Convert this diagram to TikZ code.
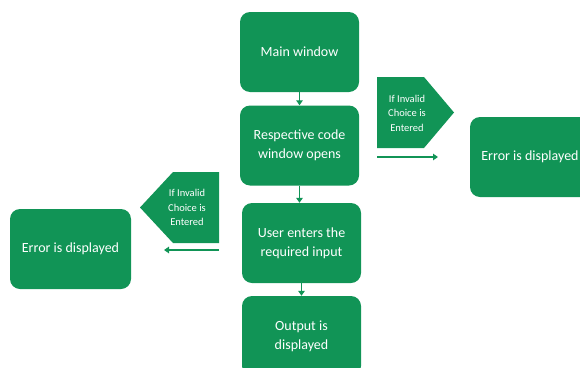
\documentclass[tikz,border=0pt]{standalone}
\usepackage{fontspec}
\setmainfont{Carlito}
\usetikzlibrary{arrows.meta}
\definecolor{gr}{RGB}{17,148,86}
\begin{document}
\begin{tikzpicture}[x=1pt,y=-1pt,
  box/.style={fill=gr, rounded corners=10pt, text=white, align=center,
    font=\fontsize{14}{19}\selectfont, inner sep=0pt,
    minimum width=119pt, minimum height=80pt},
  tag/.style={text=white, align=center, font=\fontsize{10.5}{14.5}\selectfont, inner sep=0pt},
  arr/.style={draw=gr, line width=1.6pt, -{Triangle[length=5pt,width=6.5pt]}}]
\useasboundingbox (0,0) rectangle (580,367);
\clip (0,0) rectangle (580,367);
% main column
\node[box] (main) at (299.5,52) {Main window};
\node[box] (code) at (299.5,145.5) {Respective code\\window opens};
\node[box] (user) at (301.5,243) {User enters the\\required input};
\node[box] (out) at (301.5,336) {Output is\\displayed};
\draw[arr] (main.south) -- (main.south |- code.north);
\draw[arr] (code.south) -- (code.south |- user.north);
\draw[arr] (user.south) -- (user.south |- out.north);
% right branch
\fill[gr] (377,77) -- (424,77) -- (454,112.5) -- (424,148) -- (377,148) -- cycle;
\node[tag] (rp) at (407,113) {If Invalid\\Choice is\\Entered};
\coordinate (ra) at (377,157);
\coordinate (rb) at (438,157);
\draw[arr] (ra) -- (rb);
\node[box, minimum width=120pt] (rerr) at (530,157) {Error is displayed};
% left branch
\fill[gr] (219,172) -- (219,243) -- (173,243) -- (140,207.5) -- (173,172) -- cycle;
\node[tag] (lp) at (187,207.5) {If Invalid\\Choice is\\Entered};
\coordinate (la) at (219,250);
\coordinate (lb) at (164,250);
\draw[arr] (la) -- (lb);
\node[box, minimum width=121pt] (lerr) at (70.5,249) {Error is displayed};
\end{tikzpicture}
\end{document}
